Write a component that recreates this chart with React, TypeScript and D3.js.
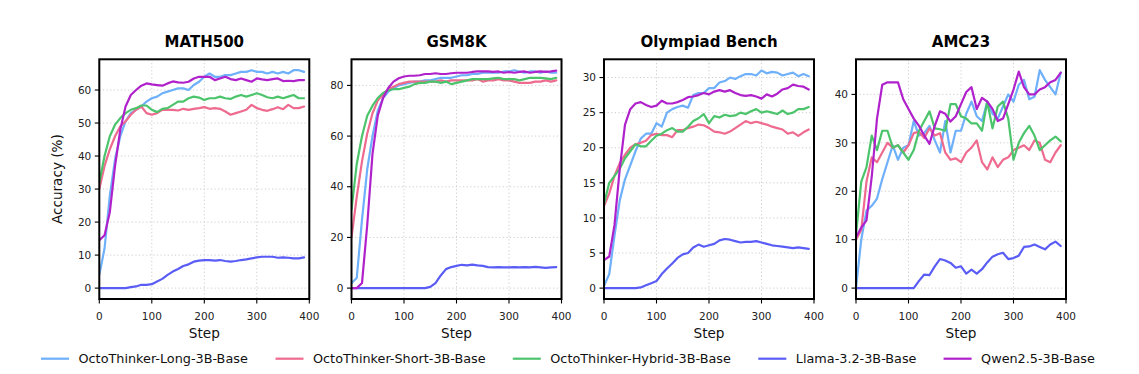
import React from "react";
import * as d3 from "d3";

// ---------------- DATA ----------------
const steps = [0,10,20,30,40,50,60,70,80,90,100,110,120,130,140,150,160,170,180,190,200,210,220,230,240,250,260,270,280,290,300,310,320,330,340,350,360,370,380,390];

const seriesNames = ["OctoThinker-Long-3B-Base","OctoThinker-Short-3B-Base","OctoThinker-Hybrid-3B-Base","Llama-3.2-3B-Base","Qwen2.5-3B-Base"];
const seriesColors = ["#6eb0fa","#ee6a8e","#4cc46c","#5a5cf6","#b021cc"];

const panelTitles = ["MATH500","GSM8K","Olympiad Bench","AMC23"];
const panelYDomains = [[-3.3,69.3],[-4.3,90.3],[-1.55,32.6],[-2.25,47.25]];
const panelYTicks = [[0,10,20,30,40,50,60],[0,20,40,60,80],[0,5,10,15,20,25,30],[0,10,20,30,40]];
const xTicks = [0,100,200,300,400];

const math500Long = [4,12,28,39,46,50.5,53,54,55,56.5,57.5,58,59,59.5,60,60.5,60.5,60,61.5,62.5,64,65,64,64,64.5,64.5,65,65.5,65.5,66,65.5,65.5,65,65.5,65,65.5,65,66,66,65.5];
const math500Short = [30,37,42,46,49,50.5,52.5,54,55,53,52.5,53,54,54,54,53.8,54.3,54,54.3,54.5,54.8,54.3,54.5,54.3,53.5,52.5,53,53.5,54,55.5,54.5,54,53.7,54.2,54.8,54.2,55.5,54.5,54.5,55];
const math500Hybrid = [32,40,46,49.5,51.5,53,54,54.5,55.3,55.3,54,53.3,54.3,54.5,55.5,56.5,56.5,57.5,58,57.7,57,57.5,57.5,58,57.5,57.3,58,58.5,58,58.5,59,58.5,57.8,57.5,58,57.5,58,58.5,57.5,57.5];
const math500Llama = [0,0,0,0,0,0,0.3,0.5,1,1,1.2,2,2.8,4,5,5.8,6.7,7.2,8,8.3,8.5,8.5,8.3,8.5,8.2,8,8.2,8.5,8.7,9,9.3,9.5,9.5,9.5,9.2,9.3,9.2,9,9,9.3];
const math500Qwen = [14.5,16,23,37,48,55,58.5,60,61.3,62,61.7,61.5,61.3,62,62.6,62.3,62.2,62.5,63.5,64,64,64,63,63.5,64,63.3,63,63.5,63,62.5,63.5,63.2,63,63.3,63.5,62.7,62.8,62.7,63,63];

const gsm8kLong = [2,4,27,47,60,70,75,77.5,79,80,80.5,81,81.5,81.5,82,82,82.5,83,83,83,83.5,84,84,84.5,84.5,85,85,85,85,85.5,85.5,86,85.5,85,85.5,85.5,85,85.5,85,85];
const gsm8kShort = [20,36,50,61,69,74,76.5,78.5,79.5,80.5,81,81.5,81.5,81.5,81.5,81.5,81.5,82,81.5,82,82,82,82,82,82.5,81.5,82,82,82.5,82,82,81.5,81,81,81,81.5,81.5,82,81.5,82];
const gsm8kHybrid = [31,49,60,68,72,75,77,78,78.5,78.5,79,79.5,80.5,81,81,81.5,81.5,81,81.5,80.5,81,81.5,82,82.5,82.5,82.5,82.5,82.8,83,82.5,82.5,82.5,82,82.5,83,83,83,82.8,82.5,83];
const gsm8kLlama = [0,0,0,0,0,0,0,0,0,0,0,0,0,0,0,0.5,2,5,7.5,8.3,8.8,9.2,9,9.3,9,8.8,8.3,8.2,8.3,8.2,8.2,8.3,8.2,8.3,8.2,8.4,8.2,8,8.2,8.3];
const gsm8kQwen = [0,0,2,25,53,68,75,79,81.5,82.8,83.5,83.8,83.8,84,84.5,84.5,84.8,84.5,84.5,84.8,85,85,85,85.3,85.5,85.5,85.5,85.3,85.5,85,85.3,85,85.3,85.5,85,85.3,85.5,85.3,85.5,85.8];

const olympiadLong = [0.3,2,7.5,12.5,15.5,17.5,19.5,21.3,22,22,23.5,23,25,25.5,25.8,26,25.7,27.5,27.8,27.8,28.5,28.5,29.3,29.5,30,29.8,30.2,30.5,30.5,30.3,31,30.6,30.8,30.7,30.3,30.5,30.7,30.2,30.5,30.2];
const olympiadShort = [11.7,13.5,16,17.8,19,20,20.5,20.7,21,21.8,22,21.8,21.8,21.5,22.5,22.5,22.8,23,23.3,23.2,22.8,22.3,22.2,22,22.3,22.8,23.3,23.8,23.5,23.7,23.5,23.3,23,22.8,22.6,22,22.2,21.7,22.2,22.6];
const olympiadHybrid = [12,15,16,17,18.5,19.5,20.5,20.2,20.2,21,21.7,22,22.5,22.8,22.3,22.3,23,23.8,24.2,24.8,23.5,24.5,24.3,24.7,24.5,24.6,25,24.8,25.2,25.5,25,25.2,25,24.8,25.3,24.8,25,25.5,25.5,25.8];
const olympiadLlama = [0,0,0,0,0,0,0,0.1,0.4,0.7,1,2,2.8,3.5,4.3,4.8,5,5.8,6.2,5.9,6.1,6.3,6.8,7,6.9,6.7,6.5,6.6,6.6,6.7,6.5,6.3,6.1,6,5.9,5.8,5.7,5.8,5.7,5.6];
const olympiadQwen = [4,4.5,9,17,23.3,25.5,26.3,26.5,26.1,25.8,26,26.7,26.3,26.3,26.5,26.8,27.2,27.3,27.5,27.8,27.6,28,28.2,28,28.2,27.8,27.5,27.4,27.5,27.3,27,27.6,27.3,27.7,28.3,28.5,29,28.8,28.7,28.3];

const amc23Long = [0,10,16,17,18.5,22.5,26,29.5,26.5,29,29.5,34.5,31.5,32,33.5,30.5,28,34.5,28,32.5,32.5,36,38.5,35.5,34.5,38.5,36,35,37.5,40,38.5,42,43,39,39.5,45,43,41.5,40,44.5];
const amc23Short = [10,12,22,27,26,28,30,29,29.5,28,29.5,32,32.3,31,33,31.5,32,28,26.5,26.8,26,28,29,30.5,26,24.5,27,25,26.5,27,28.5,29,29.5,28.5,30.5,30,26.5,26,28,29.5];
const amc23Hybrid = [11,22,25,31.5,28.5,32.5,32.5,29,29.5,28,26.5,28.5,32.5,34.5,36.5,33,32.8,32.5,38,38,35.5,35,34,34,32.5,38.5,33,37.5,38.5,35,26.5,30,32,33.5,31.5,28.5,29.5,30.5,31.3,30.3];
const amc23Llama = [0,0,0,0,0,0,0,0,0,0,0,0,1.5,2.8,2.7,4.5,6,5.7,5.2,4.2,4.5,3,3.8,3,3.9,5.3,6.5,7,7.3,6,6.2,6.7,8.5,8.6,9,8.5,8,9,9.6,8.7];
const amc23Qwen = [10.5,12.5,14,23,35,42,42.5,42.5,42.5,39,37,35,33.5,31.5,29.8,33.5,36.5,36,34.4,35.5,38,40.5,41.5,37,39.3,38.5,37,34.5,35,38,41,44.7,41.5,40,40,41,41.5,42.5,43,44.5];

const panelSeries = [
  [math500Long, math500Short, math500Hybrid, math500Llama, math500Qwen],
  [gsm8kLong, gsm8kShort, gsm8kHybrid, gsm8kLlama, gsm8kQwen],
  [olympiadLong, olympiadShort, olympiadHybrid, olympiadLlama, olympiadQwen],
  [amc23Long, amc23Short, amc23Hybrid, amc23Llama, amc23Qwen],
];

// ---------------- LAYOUT ----------------
const W = 1139, H = 374;
const panelLefts = [99.3, 351.5, 604, 856];
const panelW = 210;
const plotTop = 59.3, plotBottom = 299;
const legendX = [41, 275.5, 512.8, 758.3, 943.6];
const legendY = 358.7;
const FONT = "'DejaVu Sans', Verdana, sans-serif";

function Panel({ idx }: { idx: number }) {
  const left = panelLefts[idx];
  const x = d3.scaleLinear().domain([0, 400]).range([left, left + panelW]);
  const y = d3.scaleLinear().domain(panelYDomains[idx]).range([plotBottom, plotTop]);
  const line = d3.line<number>().x((_, i) => x(steps[i])).y((d) => y(d));
  const clipId = `clip${idx}`;
  return (
    <g>
      <defs>
        <clipPath id={clipId}>
          <rect x={left} y={plotTop} width={panelW} height={plotBottom - plotTop} />
        </clipPath>
      </defs>
      {/* grid */}
      {xTicks.map((t) => (
        <line key={"gx" + t} x1={x(t)} x2={x(t)} y1={plotTop} y2={plotBottom} stroke="#c8c8c8" strokeWidth={0.9} strokeDasharray="1.2,2.4" />
      ))}
      {panelYTicks[idx].map((t) => (
        <line key={"gy" + t} x1={left} x2={left + panelW} y1={y(t)} y2={y(t)} stroke="#c8c8c8" strokeWidth={0.9} strokeDasharray="1.2,2.4" />
      ))}
      {/* series */}
      <g clipPath={`url(#${clipId})`}>
        {panelSeries[idx].map((vals, si) => (
          <path key={si} d={line(vals) || ""} fill="none" stroke={seriesColors[si]} strokeWidth={2.2} strokeLinejoin="round" strokeLinecap="round" />
        ))}
      </g>
      {/* frame */}
      <rect x={left} y={plotTop} width={panelW} height={plotBottom - plotTop} fill="none" stroke="#000" strokeWidth={2} />
      {/* y ticks */}
      {panelYTicks[idx].map((t) => (
        <g key={"yt" + t}>
          <line x1={left - 4.5} x2={left} y1={y(t)} y2={y(t)} stroke="#000" strokeWidth={1.1} />
          <text x={left - 8} y={y(t)} dy="0.35em" textAnchor="end" fontSize={10.5} fontFamily={FONT} fill="#222">{t}</text>
        </g>
      ))}
      {/* x ticks */}
      {xTicks.map((t) => (
        <g key={"xt" + t}>
          <line x1={x(t)} x2={x(t)} y1={plotBottom} y2={plotBottom + 4.5} stroke="#000" strokeWidth={1.1} />
          <text x={x(t)} y={319.5} textAnchor="middle" fontSize={10.5} fontFamily={FONT} fill="#222">{t}</text>
        </g>
      ))}
      {/* title */}
      <text x={left + panelW / 2} y={46.5} textAnchor="middle" fontSize={15} fontWeight="bold" fontFamily={FONT} fill="#000">{panelTitles[idx]}</text>
      {/* x label */}
      <text x={left + panelW / 2} y={338.3} textAnchor="middle" fontSize={13.6} fontFamily={FONT} fill="#111">Step</text>
    </g>
  );
}

export default function App() {
  return (
    <svg width={W} height={H} style={{ position: "absolute", left: 0, top: 0, display: "block", background: "#fff" }}>
      <rect x={0} y={0} width={W} height={H} fill="#fff" />
      {panelTitles.map((_, i) => <Panel key={i} idx={i} />)}
      <text transform={`translate(61.5, ${(plotTop + plotBottom) / 2}) rotate(-90)`} textAnchor="middle" fontSize={13.6} fontFamily={FONT} fill="#111">Accuracy (%)</text>
      {seriesNames.map((name, i) => (
        <g key={name}>
          <line x1={legendX[i]} x2={legendX[i] + 28} y1={legendY} y2={legendY} stroke={seriesColors[i]} strokeWidth={2.2} />
          <text x={legendX[i] + 37.5} y={legendY} dy="0.36em" fontSize={12.8} fontFamily={FONT} fill="#111">{name}</text>
        </g>
      ))}
    </svg>
  );
}
